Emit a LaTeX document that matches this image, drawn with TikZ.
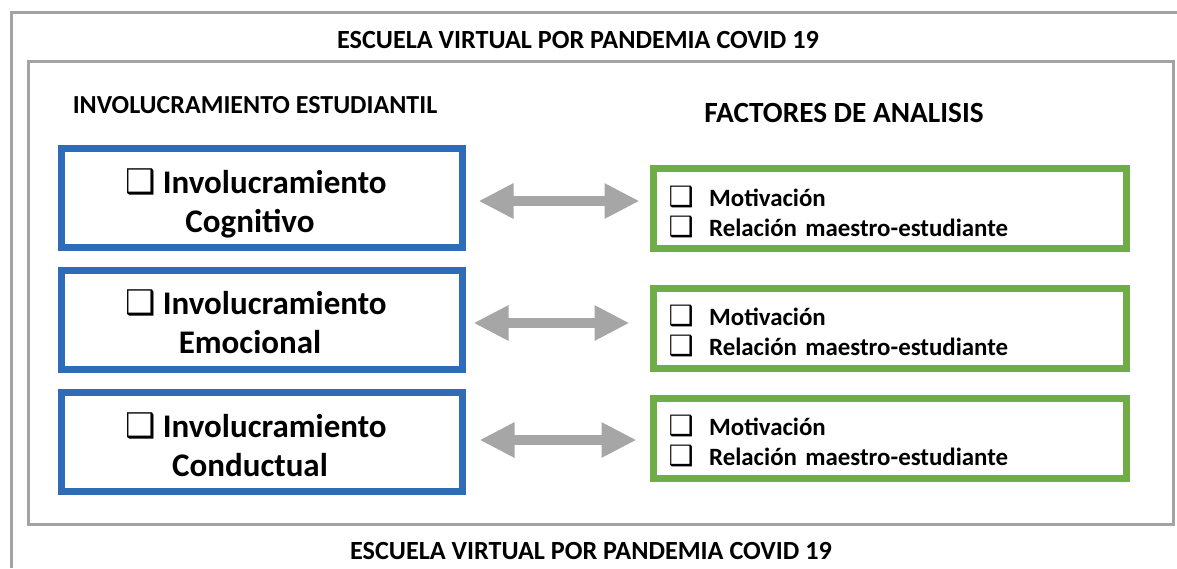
\documentclass[tikz,border=0pt]{standalone}
\usepackage{fontspec}
\setmainfont{Carlito}
\newfontfamily\dejavu{DejaVu Sans}
\usetikzlibrary{arrows.meta}
\definecolor{bluebox}{HTML}{2E6CB8}
\definecolor{greenbox}{HTML}{70AD47}
\definecolor{arrowgray}{HTML}{A6A6A6}
\definecolor{framegray}{HTML}{A3A3A3}
\newcommand\chk[1]{{\dejavu\fontsize{#1}{#1}\selectfont ❑}}
\newcommand\trail[1]{\rule{#1}{0pt}}
\begin{document}
\begin{tikzpicture}[x=1pt,y=-1pt,
  frame/.style={draw=framegray,line width=3pt},
  blbox/.style={draw=bluebox,line width=7pt,minimum width=401pt,minimum height=99pt,inner sep=0pt,align=center,
    text height=70pt,text depth=2pt,font=\fontsize{33}{39}\selectfont\bfseries},
  grbox/.style={draw=greenbox,line width=7pt,minimum width=473pt,minimum height=80pt,inner xsep=15pt,inner ysep=0pt,
    text width=443pt,align=left,text height=15pt,text depth=20pt,font=\fontsize{24.9}{30}\selectfont\bfseries},
  bigarrow/.style={draw=arrowgray,line width=10pt,{Triangle[length=35pt,width=33pt]}-{Triangle[length=35pt,width=33pt]}},
  title/.style={font=\fontsize{26.2}{30}\selectfont\bfseries,inner sep=0pt},
  heading/.style={font=\fontsize{26}{30}\selectfont\bfseries,inner sep=0pt}
]
\useasboundingbox (0,0) rectangle (1177,568);
\fill[white] (0,0) rectangle (1177,568);
% frames
\draw[frame] (1177,12) -- (11,12) -- (11,568);
\draw[frame] (28,61) rectangle (1173,524);
% titles
\node[title] (ttop) at (578,40) {ESCUELA VIRTUAL POR PANDEMIA COVID 19};
\node[title] (tbot) at (591,551) {ESCUELA VIRTUAL POR PANDEMIA COVID 19};
\node[heading] (h1) at (255,105) {INVOLUCRAMIENTO ESTUDIANTIL};
\node[heading,font=\fontsize{29.3}{30}\selectfont\bfseries] (h2) at (844,113) {FACTORES DE ANALISIS};
% blue boxes
\node[blbox] (b1) at (262,198) {\chk{34}\hspace{7pt}Involucramiento\trail{12pt}\\Cognitivo\trail{24pt}};
\node[blbox] (b2) at (262,319.5) {\chk{34}\hspace{7pt}Involucramiento\trail{12pt}\\Emocional\trail{24pt}};
\node[blbox] (b3) at (262,442) {\chk{34}\hspace{7pt}Involucramiento\trail{12pt}\\Conductual\trail{24pt}};
% green boxes
\node[grbox] (f1) at (890,208.5) {\chk{28}\hspace{15.5pt}Motivación\\\chk{28}\hspace{15.5pt}Relación maestro-estudiante};
\node[grbox] (f2) at (890,328) {\chk{28}\hspace{15.5pt}Motivación\\\chk{28}\hspace{15.5pt}Relación maestro-estudiante};
\node[grbox] (f3) at (890,438) {\chk{28}\hspace{15.5pt}Motivación\\\chk{28}\hspace{15.5pt}Relación maestro-estudiante};
% arrows
\draw[bigarrow] ([xshift=12.5pt,yshift=-3pt]b1.east) -- ([xshift=-10.5pt,yshift=7.5pt]f1.west);
\draw[bigarrow] ([xshift=7.5pt,yshift=-3.5pt]b2.east) -- ([xshift=-20.5pt,yshift=5pt]f2.west);
\draw[bigarrow] ([xshift=13.5pt,yshift=2pt]b3.east) -- ([xshift=-13.5pt,yshift=-2pt]f3.west);
\end{tikzpicture}
\end{document}
